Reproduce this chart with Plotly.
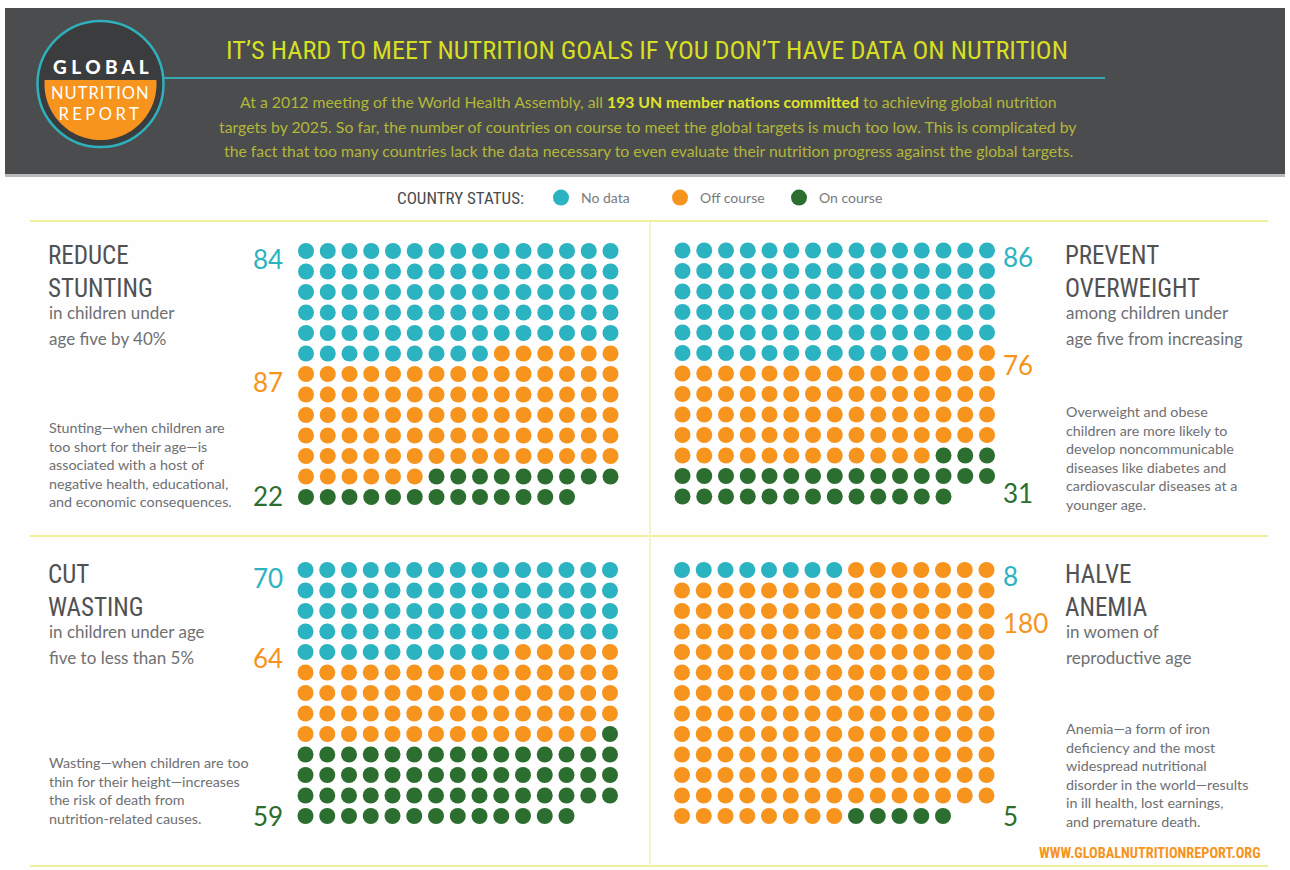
import numpy as np
import plotly.graph_objects as go

W, H = 1290, 870

# ---------------- data ----------------
statuses = ["No data", "Off course", "On course"]
status_colors = ["#2cb3c1", "#f7941d", "#2c6e2f"]

goals = ["stunting", "overweight", "wasting", "anemia"]
no_data = [84, 86, 70, 8]
off_course = [87, 76, 64, 180]
on_course = [22, 31, 59, 5]
ncols = 15

goal_titles = [["REDUCE", "STUNTING"], ["PREVENT", "OVERWEIGHT"], ["CUT", "WASTING"], ["HALVE", "ANEMIA"]]
goal_subtitles = [
    ["in children under", "age five by 40%"],
    ["among children under", "age five from increasing"],
    ["in children under age", "five to less than 5%"],
    ["in women of", "reproductive age"],
]
goal_notes = [
    ["Stunting\u2014when children are", "too short for their age\u2014is", "associated with a host of",
     "negative health, educational,", "and economic consequences."],
    ["Overweight and obese", "children are more likely to", "develop noncommunicable",
     "diseases like diabetes and", "cardiovascular diseases at a", "younger age."],
    ["Wasting\u2014when children are too", "thin for their height\u2014increases", "the risk of death from",
     "nutrition-related causes."],
    ["Anemia\u2014a form of iron", "deficiency and the most", "widespread nutritional",
     "disorder in the world\u2014results", "in ill health, lost earnings,", "and premature death."],
]

# ---------------- layout geometry (pixels) ----------------
DX, DY = 21.75, 20.5
panel_origin = [(306, 251), (682.5, 250.5), (305.5, 570), (682, 570)]
label_side = ["left", "right", "left", "right"]
label_rows = [[0.4, 6.4, 11.95], [0.3, 5.6, 11.85], [0.4, 4.3, 12.0], [0.3, 2.6, 12.0]]
text_x = [48, 1065, 48, 1065]
title_y = [258, 258, 577, 577]
note_first_y = [427, 411, 763, 728]
note_step = 18.6

COND = ("Noto Sans Condensed, Noto Sans ExtraCondensed, Roboto Condensed, DejaVu Sans Condensed, "
        "Liberation Sans Narrow, Noto Sans, sans-serif")
BODY = "Lato, Open Sans, sans-serif"
DARK = "#505153"
GREY = "#6f7072"


def cond(text):
    return "<span style='font-stretch:condensed'>" + text + "</span>"


fig = go.Figure()
annotations = []
shapes = []


def px(x):
    return x / W


def py(y):
    return 1 - y / H


def ann(text, x, y, size, color, family=BODY, xanchor="left", yanchor="middle", weight=None,
        align=None, **kw):
    font = dict(size=size, color=color, family=family)
    if weight is not None:
        font["weight"] = weight
    if align is None:
        align = "center" if xanchor == "center" else xanchor
    annotations.append(dict(text=text, x=px(x), y=py(y), xref="paper", yref="paper",
                            showarrow=False, xanchor=xanchor, yanchor=yanchor, align=align,
                            font=font, borderpad=0, **kw))


axis_ids = ["", "2", "3", "4"]
for p, goal in enumerate(goals):
    counts = [no_data[p], off_course[p], on_course[p]]
    status_idx = np.repeat(np.arange(3), counts)
    idx = np.arange(status_idx.size)
    cols = idx % ncols
    rows = idx // ncols
    nrows = int(rows.max()) + 1
    ax = axis_ids[p]
    for s in range(3):
        m = status_idx == s
        fig.add_trace(go.Scatter(
            x=cols[m], y=rows[m], mode="markers", name=statuses[s],
            legendgroup=statuses[s], showlegend=(p == 0),
            marker=dict(size=16, color=status_colors[s], line=dict(width=0)),
            xaxis="x" + ax, yaxis="y" + ax,
            hovertemplate=goal + ": " + statuses[s] + "<extra></extra>",
        ))
    x0, y0 = panel_origin[p]
    left = x0 - 0.5 * DX
    right = x0 + (ncols - 0.5) * DX
    top = y0 - 0.5 * DY
    bottom = y0 + (nrows - 0.5) * DY
    common = dict(showgrid=False, zeroline=False, showticklabels=False, ticks="",
                  showline=False, fixedrange=True)
    fig.update_layout(**{
        "xaxis" + ax: dict(domain=[px(left), px(right)], range=[-0.5, ncols - 0.5],
                           anchor="y" + ax, **common),
        "yaxis" + ax: dict(domain=[py(bottom), py(top)], range=[nrows - 0.5, -0.5],
                           anchor="x" + ax, **common),
    })
    # count labels
    for s in range(3):
        ly = y0 + label_rows[p][s] * DY
        if label_side[p] == "left":
            ann(str(counts[s]), x0 - 1.0 * DX, ly, 26, status_colors[s], xanchor="right")
        else:
            ann(str(counts[s]), x0 + 14.7 * DX, ly, 26, status_colors[s], xanchor="left")
    # titles and texts
    tx = text_x[p]
    ty = title_y[p]
    ann(cond("<br>".join(goal_titles[p])), tx - 1, ty + 13.5, 25, DARK, COND)
    ann(goal_subtitles[p][0], tx, ty + 54, 17, GREY)
    ann(goal_subtitles[p][1], tx, ty + 80, 17, GREY)
    nl = len(goal_notes[p])
    ann("<br>".join(goal_notes[p]), tx, note_first_y[p] + (nl - 1) * note_step / 2, 14.3, GREY)

# decoration axis in pixel space
fig.update_layout(
    xaxis5=dict(domain=[0, 1], range=[0, W], visible=False, fixedrange=True, anchor="y5"),
    yaxis5=dict(domain=[0, 1], range=[H, 0], visible=False, fixedrange=True, anchor="x5"),
)


def rect(x0, y0, x1, y1, fill):
    shapes.append(dict(type="rect", xref="x5", yref="y5", x0=x0, y0=y0, x1=x1, y1=y1,
                       fillcolor=fill, line=dict(width=0), layer="below"))


def hline(x0, x1, y, color, width):
    shapes.append(dict(type="line", xref="x5", yref="y5", x0=x0, x1=x1, y0=y, y1=y,
                       line=dict(color=color, width=width), layer="below"))


# header band
rect(5, 174, 1285, 177, "#b9b9b9")
rect(5, 8, 1285, 174, "#4b4c4e")
hline(155, 1105, 78, "#36a7b3", 2)

# logo
cx, cy = 100.5, 84
shapes.append(dict(type="circle", xref="x5", yref="y5", x0=cx - 63, x1=cx + 63, y0=cy - 63, y1=cy + 63,
                   fillcolor="#3b3c3e", line=dict(color="#2fb1bd", width=2.5), layer="below"))
r_in, cut = 56, 80
a0 = np.arcsin((cut - cy) / r_in)
t = np.linspace(a0, np.pi - a0, 80)
pts = [(cx + r_in * np.cos(a), cy + r_in * np.sin(a)) for a in t]
path = "M " + " L ".join(f"{x:.2f},{y:.2f}" for x, y in pts) + " Z"
shapes.append(dict(type="path", xref="x5", yref="y5", path=path, fillcolor="#f7941d",
                   line=dict(width=0), layer="below"))
ann("G L O B A L", cx, 66, 19, "#ffffff", "Lato, sans-serif", xanchor="center", weight=900)
ann("<span style='letter-spacing:1px'>NUTRITION</span><br>"
    "<span style='letter-spacing:3.5px'>REPORT</span>",
    cx, 104, 16.5, "#ffffff", BODY, xanchor="center")

# header text
ann(cond("IT\u2019S HARD TO MEET NUTRITION GOALS IF YOU DON\u2019T HAVE DATA ON NUTRITION"),
    647, 50, 26.3, "#d7df23", COND, xanchor="center")
SUB = "#b2b73a"
ann("At a 2012 meeting of the World Health Assembly, all "
    "<span style='color:#dfe32a'><b>193 UN member nations committed</b></span> to achieving global nutrition",
    648, 101, 15.8, SUB, xanchor="center")
ann("targets by 2025. So far, the number of countries on course to meet the global targets is much too low. "
    "This is complicated by", 648, 126, 15.8, SUB, xanchor="center")
ann("the fact that too many countries lack the data necessary to even evaluate their nutrition progress "
    "against the global targets.", 648, 150, 15.8, SUB, xanchor="center")

# legend title
ann(cond("COUNTRY STATUS:"), 525, 198, 17, "#4a4b4d", COND, xanchor="right")

# divider lines
LINEC = "#eef09c"
hline(30, 1268, 221, LINEC, 2)
hline(30, 1268, 536, LINEC, 2)
hline(30, 1268, 866, LINEC, 2)
shapes.append(dict(type="line", xref="x5", yref="y5", x0=650, x1=650, y0=222, y1=866,
                   line=dict(color="#f3f4cc", width=2), layer="below"))

# footer
ann(cond("WWW.GLOBALNUTRITIONREPORT.ORG"), 1262, 853, 14.3, "#f7941d", COND, xanchor="right", weight=700)

fig.update_layout(
    width=W, height=H,
    margin=dict(l=0, r=0, t=0, b=0, pad=0),
    paper_bgcolor="#fefefe",
    plot_bgcolor="rgba(0,0,0,0)",
    shapes=shapes,
    annotations=annotations,
    showlegend=True,
    legend=dict(orientation="h", x=px(541), y=py(198), xanchor="left", yanchor="middle",
                font=dict(size=14, color="#7a7b7d", family=BODY), bgcolor="rgba(0,0,0,0)",
                itemsizing="trace", entrywidth=74, entrywidthmode="pixels", itemclick=False,
                itemdoubleclick=False),
    hovermode="closest",
)

fig.write_html("out.html", config={"displayModeBar": False},
               post_script="document.body.style.margin='0px';document.body.style.overflow='hidden';")
